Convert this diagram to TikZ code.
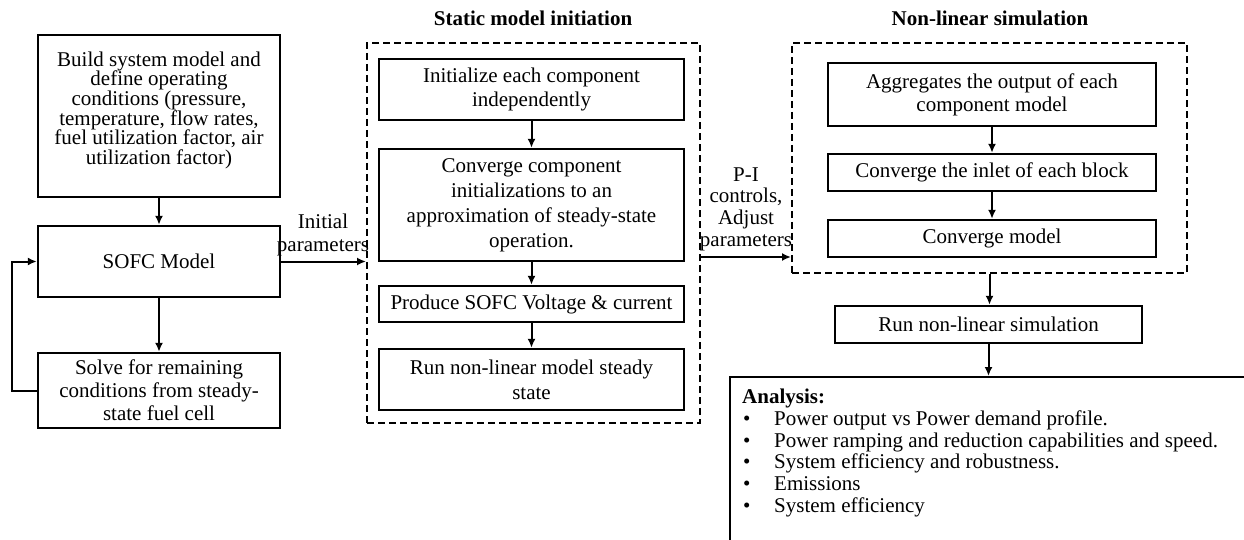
\documentclass[tikz,border=0pt]{standalone}
\usepackage{fontspec}
\setmainfont{Liberation Serif}
\usepackage{tikz}
\usetikzlibrary{arrows.meta,calc}

\begin{document}
\begin{tikzpicture}[x=1pt,y=-1pt,
    font=\fontsize{21}{23}\selectfont,
    box/.style={draw,line width=2.4pt,align=center,inner sep=0pt},
    group/.style={draw,line width=2pt,dash pattern=on 7pt off 4pt},
    arr/.style={line width=2pt,-{Latex[length=9pt,width=8pt]}},
    title/.style={font=\fontsize{21}{23}\selectfont\bfseries}]
    \useasboundingbox (0,0) rectangle (1244,540);
    \clip (0,0) rectangle (1244,540);

    % left column
    \draw
    (159,116) node[box,minimum width=242,minimum height=162,text depth=16pt,
      font=\fontsize{21}{19.7}\selectfont](build) {Build system model and\\define operating\\conditions (pressure,\\temperature, flow rates,\\fuel utilization factor, air\\utilization factor)}
    (159,261.5) node[box,minimum width=242,minimum height=71](sofc) {SOFC Model}
    (159,390.5) node[box,minimum width=242,minimum height=75](solve) {Solve for remaining\\conditions from steady-\\state fuel cell};

    % static model initiation
    \node[group,minimum width=333,minimum height=380] (static) at (533.5,233) {};
    \node[title] (statictitle) at (533,18) {Static model initiation};
    \draw
    (531.5,89.5) node[box,minimum width=305,minimum height=61,
      font=\fontsize{21}{24}\selectfont](init) {Initialize each component\\independently}
    (531.5,205) node[box,minimum width=305,minimum height=112,
      font=\fontsize{21}{25}\selectfont](conv) {Converge component\\initializations to an\\approximation of steady-state\\operation.}
    (531.5,304) node[box,minimum width=305,minimum height=36](produce) {Produce SOFC Voltage \& current}
    (531.5,379.5) node[box,minimum width=305,minimum height=61,
      font=\fontsize{21}{25}\selectfont](runss) {Run non-linear model steady\\state};

    % non-linear simulation
    \node[group,minimum width=395,minimum height=230] (nonlin) at (989.5,158) {};
    \node[title] (nonlintitle) at (990,18) {Non-linear simulation};
    \draw
    (992,94.5) node[box,minimum width=328,minimum height=63](aggr) {Aggregates the output of each\\component model}
    (992,172.5) node[box,minimum width=328,minimum height=37](inlet) {Converge the inlet of each block}
    (992,238.5) node[box,minimum width=328,minimum height=37](convm) {Converge model}
    (988.5,324.5) node[box,minimum width=307,minimum height=37](runsim) {Run non-linear simulation};

    % analysis
    \node[box,anchor=north west,minimum width=540,minimum height=180] (analysis) at (729,376) {};
    \node[anchor=north west,inner sep=0pt,align=left,
      font=\fontsize{21}{21.7}\selectfont] (analysistext) at (742,389)
      {\textbf{Analysis:}\\
       \makebox[32pt][l]{\hspace{1pt}\textbullet}Power output vs Power demand profile.\\
       \makebox[32pt][l]{\hspace{1pt}\textbullet}Power ramping and reduction capabilities and speed.\\
       \makebox[32pt][l]{\hspace{1pt}\textbullet}System efficiency and robustness.\\
       \makebox[32pt][l]{\hspace{1pt}\textbullet}Emissions\\
       \makebox[32pt][l]{\hspace{1pt}\textbullet}System efficiency};

    % labels
    \node[align=center,font=\fontsize{21}{23}\selectfont] (initlbl) at (323,235) {Initial\\parameters};
    \node[align=center,font=\fontsize{21}{21.7}\selectfont] (pilbl) at (746,209) {P-I\\controls,\\Adjust\\parameters};

    % connectors
    \draw[arr] (build) -- (sofc);
    \draw[arr] (sofc) -- (solve);
    \draw[arr] (solve.west) -- ++(-25,0) |- (sofc.west);
    \draw[arr] (sofc.east) -- (sofc.east -| static.west);
    \draw[arr] (init) -- (conv);
    \draw[arr] (conv) -- (produce);
    \draw[arr] (produce) -- (runss);
    \draw[arr] ([yshift=-24]static.east) -- ([yshift=-24]static.east -| nonlin.west);
    \draw[arr] (aggr) -- (inlet);
    \draw[arr] (inlet) -- (convm);
    \draw[arr] (nonlin.south) -- (nonlin.south |- runsim.north);
    \draw[arr] (runsim.south) -- (runsim.south |- analysis.north);
\end{tikzpicture}
\end{document}
